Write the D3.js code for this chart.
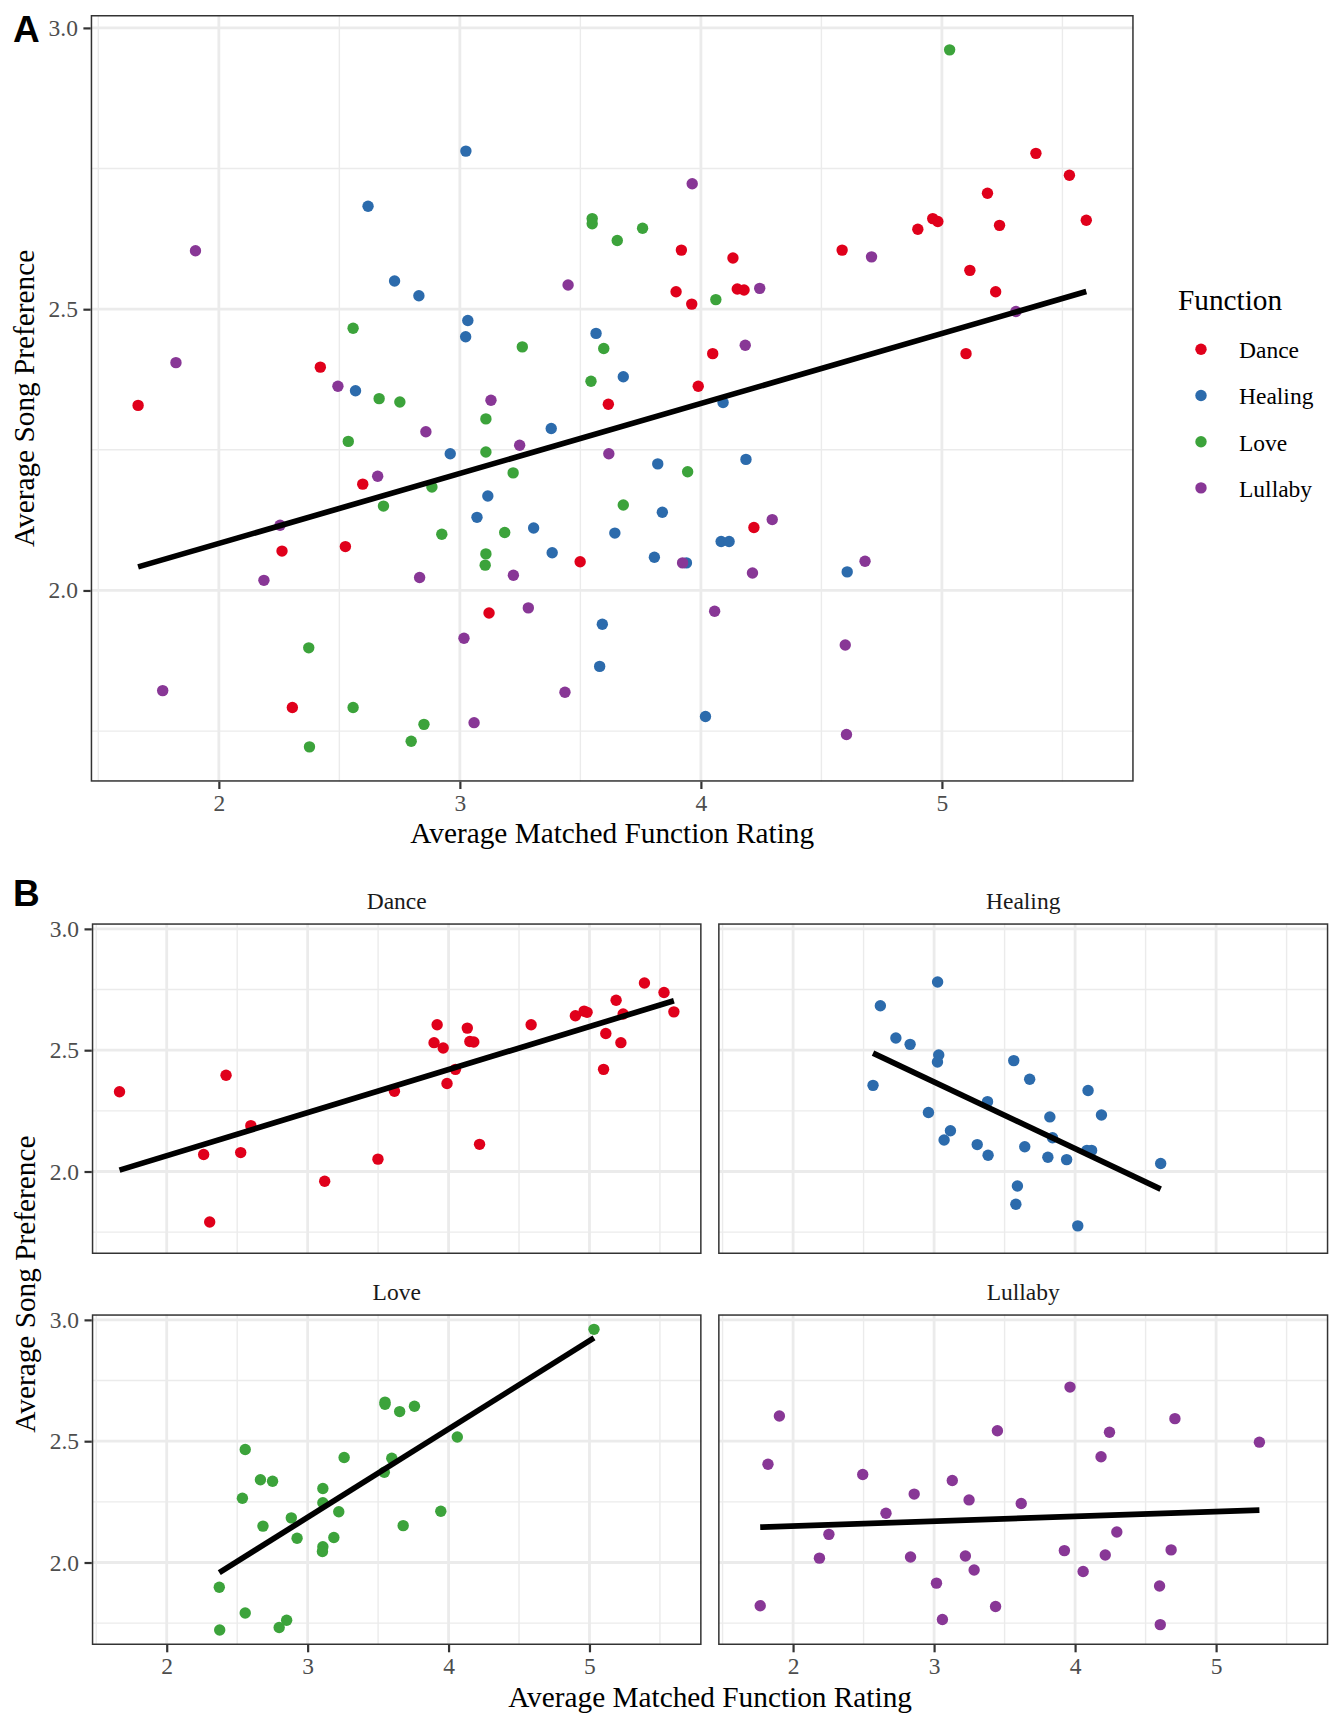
<!DOCTYPE html>
<html><head><meta charset="utf-8">
<script src="https://cdn.jsdelivr.net/npm/d3@7"></script>
<style>body{margin:0;background:#fff} svg{display:block} text{font-family:"Liberation Serif","Times New Roman",serif}</style>
</head><body>
<svg id="chart" width="1344" height="1728"></svg>
<script>
// ---------------- data ----------------
const functions = ["Dance", "Healing", "Love", "Lullaby"];
const colors = ["#E0001B", "#2C6BAC", "#3CA33B", "#883796"];

const danceX = [2.421,1.665,5.390,5.529,5.189,4.962,4.983,5.239,5.599,4.900,3.919,4.586,4.133,5.116,3.897,4.151,4.179,5.223,3.962,4.049,5.100,3.616,3.989,4.220,3.499,2.597,2.262,2.525,3.121,2.305];
const danceY = [2.397,2.329,2.777,2.738,2.706,2.661,2.656,2.649,2.658,2.642,2.605,2.605,2.591,2.569,2.531,2.536,2.534,2.531,2.509,2.421,2.421,2.331,2.363,2.112,2.051,2.189,2.070,2.078,1.960,1.792];

const healingX = [3.025,2.619,2.729,2.830,3.033,3.024,3.565,2.567,3.678,4.092,3.821,4.187,3.840,3.643,4.084,4.117,3.807,3.940,4.607,3.591,3.580,4.019,3.379,2.960,3.116,3.071,3.306,3.383];
const healingY = [2.781,2.683,2.550,2.524,2.480,2.451,2.457,2.355,2.380,2.334,2.225,2.233,2.139,2.102,2.087,2.087,2.059,2.049,2.033,1.940,1.865,1.776,2.288,2.243,2.168,2.130,2.111,2.067];

const loveX = [3.549,3.549,2.557,3.259,3.597,3.544,2.665,2.751,3.108,5.032,3.758,3.653,4.062,3.945,3.678,2.537,3.108,3.221,2.884,2.683,2.925,3.186,3.108,3.105,2.373,2.557,2.851,2.798,2.376];
const loveY = [2.661,2.652,2.466,2.433,2.430,2.372,2.341,2.335,2.305,2.961,2.644,2.622,2.517,2.211,2.152,2.265,2.246,2.209,2.184,2.150,2.100,2.103,2.065,2.045,1.898,1.792,1.762,1.732,1.722];

const lullabyX = [1.903,3.449,1.822,2.494,3.129,3.964,4.708,4.244,5.307,4.184,3.618,4.296,3.924,4.681,4.214,4.057,4.599,3.436,4.604,2.859,3.248,2.659,2.254,2.187,2.833,3.222,3.284,3.017,1.767,3.059];
const lullabyY = [2.604,2.543,2.405,2.363,2.338,2.723,2.593,2.537,2.496,2.436,2.243,2.126,2.049,2.052,2.031,1.963,1.903,1.819,1.744,2.282,2.258,2.203,2.116,2.018,2.023,2.027,1.969,1.915,1.822,1.765];

const xTicks = [2, 3, 4, 5];
const xMinor = [1.5, 2.5, 3.5, 4.5, 5.5];
const yTicks = [2.0, 2.5, 3.0];
const yMinor = [1.75, 2.25, 2.75];

const xTitle = "Average Matched Function Rating";
const yTitle = "Average Song Preference";
const legendTitle = "Function";

// ---------------- setup ----------------
const xs = [danceX, healingX, loveX, lullabyX];
const ys = [danceY, healingY, loveY, lullabyY];
const groups = functions.map((f, i) => ({
  name: f, color: colors[i],
  pts: xs[i].map((x, j) => ({x, y: ys[i][j], c: colors[i]}))
}));
const allPts = groups.flatMap(g => g.pts);

function expand(ext) { const d = ext[1] - ext[0]; return [ext[0] - 0.05 * d, ext[1] + 0.05 * d]; }
const xDom = expand(d3.extent(allPts, d => d.x));
const yDom = expand(d3.extent(allPts, d => d.y));

function fit(pts) {
  const mx = d3.mean(pts, d => d.x), my = d3.mean(pts, d => d.y);
  let sxy = 0, sxx = 0;
  pts.forEach(d => { sxy += (d.x - mx) * (d.y - my); sxx += (d.x - mx) ** 2; });
  const b = sxy / sxx, a = my - b * mx;
  const [x0, x1] = d3.extent(pts, d => d.x);
  return [{x: x0, y: a + b * x0}, {x: x1, y: a + b * x1}];
}

const SERIF = "Liberation Serif";
const SANS = "Liberation Sans";
const svg = d3.select("#chart");
svg.append("rect").attr("width", 1344).attr("height", 1728).attr("fill", "#fff");

const R = 5.7;

function panel(rect, pts, line, showX, showY) {
  const x = d3.scaleLinear().domain(xDom).range([rect.l, rect.r]);
  const y = d3.scaleLinear().domain(yDom).range([rect.b, rect.t]);
  const g = svg.append("g");
  const clipId = "clip" + Math.round(rect.l) + "_" + Math.round(rect.t);
  g.append("clipPath").attr("id", clipId).append("rect")
    .attr("x", rect.l).attr("y", rect.t).attr("width", rect.r - rect.l).attr("height", rect.b - rect.t);
  const inner = g.append("g").attr("clip-path", `url(#${clipId})`);
  inner.append("rect").attr("x", rect.l).attr("y", rect.t)
    .attr("width", rect.r - rect.l).attr("height", rect.b - rect.t).attr("fill", "#fff");
  inner.selectAll(".xm").data(xMinor).join("line")
    .attr("x1", d => x(d)).attr("x2", d => x(d)).attr("y1", rect.t).attr("y2", rect.b)
    .attr("stroke", "#EBEBEB").attr("stroke-width", 1.4);
  inner.selectAll(".ym").data(yMinor).join("line")
    .attr("y1", d => y(d)).attr("y2", d => y(d)).attr("x1", rect.l).attr("x2", rect.r)
    .attr("stroke", "#EBEBEB").attr("stroke-width", 1.4);
  inner.selectAll(".xM").data(xTicks).join("line")
    .attr("x1", d => x(d)).attr("x2", d => x(d)).attr("y1", rect.t).attr("y2", rect.b)
    .attr("stroke", "#EBEBEB").attr("stroke-width", 2.8);
  inner.selectAll(".yM").data(yTicks).join("line")
    .attr("y1", d => y(d)).attr("y2", d => y(d)).attr("x1", rect.l).attr("x2", rect.r)
    .attr("stroke", "#EBEBEB").attr("stroke-width", 2.8);
  inner.append("g").selectAll("circle").data(pts).join("circle")
    .attr("cx", d => x(d.x)).attr("cy", d => y(d.y)).attr("r", R).attr("fill", d => d.c);
  inner.append("path").datum(line)
    .attr("d", d3.line().x(d => x(d.x)).y(d => y(d.y)))
    .attr("fill", "none").attr("stroke", "#000").attr("stroke-width", 5.7);
  g.append("rect").attr("x", rect.l + 0.75).attr("y", rect.t + 0.75)
    .attr("width", rect.r - rect.l - 1.5).attr("height", rect.b - rect.t - 1.5)
    .attr("fill", "none").attr("stroke", "#333333").attr("stroke-width", 1.5);
  if (showX) {
    const ax = g.append("g").attr("transform", `translate(0,${rect.b})`)
      .call(d3.axisBottom(x).tickValues(xTicks).tickSize(7.3).tickPadding(5.5).tickFormat(d3.format("d")));
    styleAxis(ax);
  }
  if (showY) {
    const ay = g.append("g").attr("transform", `translate(${rect.l},0)`)
      .call(d3.axisLeft(y).tickValues(yTicks).tickSize(7.3).tickPadding(5.5).tickFormat(d3.format(".1f")));
    styleAxis(ay);
  }
  return {x, y};
}

function styleAxis(a) {
  a.select(".domain").remove();
  a.attr("font-family", SERIF).attr("font-size", 23.5);
  a.selectAll(".tick line").attr("stroke", "#333333").attr("stroke-width", 2.2);
  a.selectAll(".tick text").attr("fill", "#4D4D4D")
    .attr("font-family", SERIF).attr("font-size", 23.5)
    .style("font-family", SERIF).style("font-size", "23.5px");
}

function addText(x, y, txt, size, opts = {}) {
  const t = svg.append("text").attr("x", x).attr("y", y)
    .attr("font-family", opts.family || SERIF).attr("font-size", size)
    .style("font-family", opts.family || SERIF).style("font-size", size + "px")
    .attr("fill", opts.fill || "#000").text(txt);
  if (opts.anchor) t.attr("text-anchor", opts.anchor);
  if (opts.weight) t.attr("font-weight", opts.weight).style("font-weight", opts.weight);
  if (opts.rotate) t.attr("transform", `rotate(-90,${x},${y})`);
  return t;
}

// ---------------- Panel A ----------------
const rectA = {l: 90.7, r: 1133.7, t: 15, b: 781.7};
panel(rectA, allPts, fit(allPts), true, true);

addText((rectA.l + rectA.r) / 2, 843.3, xTitle, 29.3, {anchor: "middle"});
addText(34.5, (rectA.t + rectA.b) / 2, yTitle, 29.3, {anchor: "middle", rotate: true});

// legend
addText(1178, 310, legendTitle, 29.3);
groups.forEach((gr, i) => {
  const cy = 349.3 + i * 46.2;
  svg.append("circle").attr("cx", 1201).attr("cy", cy).attr("r", R).attr("fill", gr.color);
  addText(1239, cy + 8.8, gr.name, 23.5);
});

addText(13, 41.7, "A", 37, {family: SANS, weight: "bold"});

// ---------------- Panel B ----------------
const colL = [91.8, 718.1], colR = [701.6, 1328.3];
const rowT = [923.3, 1314.3], rowB = [1254, 1645];
groups.forEach((gr, i) => {
  const c = i % 2, r = Math.floor(i / 2);
  const rect = {l: colL[c], r: colR[c], t: rowT[r], b: rowB[r]};
  panel(rect, gr.pts, fit(gr.pts), r === 1, c === 0);
  addText((rect.l + rect.r) / 2, rect.t - 14.3, gr.name, 23.5, {anchor: "middle", fill: "#1A1A1A"});
});

addText((colL[0] + colR[1]) / 2, 1706.7, xTitle, 29.3, {anchor: "middle"});
addText(35, (rowT[0] + rowB[1]) / 2, yTitle, 29.3, {anchor: "middle", rotate: true});

addText(13, 905.5, "B", 37, {family: SANS, weight: "bold"});
</script>
</body></html>
